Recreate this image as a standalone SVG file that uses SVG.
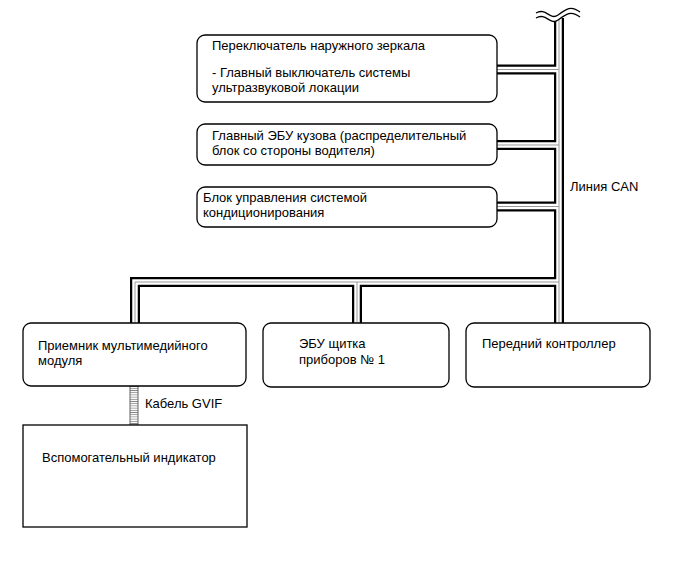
<svg xmlns="http://www.w3.org/2000/svg" width="686" height="563" viewBox="0 0 686 563">
<style>
.box{fill:#fff;stroke:#000;stroke-width:1.3}
.t{font-family:"Liberation Sans",Arial,sans-serif;font-size:13px;fill:#000}
.cb{fill:none;stroke:#000;stroke-width:10}
.cw{fill:none;stroke:#fff;stroke-width:5.5}
.cg{fill:none;stroke:#999;stroke-width:1}
</style>
<defs>
<pattern id="ladder" x="0" y="0" width="8" height="2.2" patternUnits="userSpaceOnUse">
<rect width="8" height="2.2" fill="#fff"/>
<line x1="0" y1="1.1" x2="8" y2="1.1" stroke="#888" stroke-width="0.8"/>
</pattern>
</defs>
<g id="connectors">
<g class="cb">
<path d="M559,18 V323"/>
<path d="M497,69.5 H559"/>
<path d="M497,145 H559"/>
<path d="M497,206.5 H559"/>
<path d="M559,282 H135 V323"/>
<path d="M357,282 V323"/>
</g>
<g class="cw">
<path d="M559,18 V324"/>
<path d="M496,69.5 H559"/>
<path d="M496,145 H559"/>
<path d="M496,206.5 H559"/>
<path d="M559,282 H135 V324"/>
<path d="M357,282 V324"/>
</g>
<g class="cg">
<path d="M559,18 V324"/>
<path d="M496,69.5 H559"/>
<path d="M496,145 H559"/>
<path d="M496,206.5 H559"/>
<path d="M559,282 H135 V324"/>
<path d="M357,282 V324"/>
</g>
<path d="M536,18 C546,12 550,26 558,20 S571,10 580,17 L580,12 C571,5 566,15 558,15 S546,7 536,13 Z" fill="#fff" stroke="none"/>
<path d="M536,13 C546,7 550,21 558,15 S571,5 580,12" fill="none" stroke="#000" stroke-width="1.3"/>
<path d="M536,18 C546,12 550,26 558,20 S571,10 580,17" fill="none" stroke="#000" stroke-width="1.3"/>
<rect x="130" y="386" width="8" height="39" fill="url(#ladder)" stroke="#555" stroke-width="0.9"/>
<text class="t" x="145" y="408">Кабель GVIF</text>
<text class="t" x="570" y="191">Линия CAN</text>
</g>
<g id="n1">
<rect class="box" x="197" y="35" width="300" height="67" rx="8"/>
<text class="t" x="212" y="50">Переключатель наружного зеркала</text>
<text class="t" x="212" y="76.5">- Главный выключатель системы</text>
<text class="t" x="212" y="91.5">ультразвуковой локации</text>
</g>
<g id="n2">
<rect class="box" x="197" y="124" width="300" height="41" rx="8"/>
<text class="t" x="212" y="140">Главный ЭБУ кузова (распределительный</text>
<text class="t" x="212" y="155">блок со стороны водителя)</text>
</g>
<g id="n3">
<rect class="box" x="197" y="187" width="300" height="40" rx="8"/>
<text class="t" x="203" y="202">Блок управления системой</text>
<text class="t" x="203" y="217">кондиционирования</text>
</g>
<g id="n4">
<rect class="box" x="23" y="323" width="223" height="63" rx="8"/>
<text class="t" x="38" y="350">Приемник мультимедийного</text>
<text class="t" x="38" y="365">модуля</text>
</g>
<g id="n5">
<rect class="box" x="263" y="323" width="186" height="64" rx="8"/>
<text class="t" x="299" y="347.5">ЭБУ щитка</text>
<text class="t" x="299" y="363.5">приборов № 1</text>
</g>
<g id="n6">
<rect class="box" x="466" y="323" width="184" height="64" rx="8"/>
<text class="t" x="482" y="347.5">Передний контроллер</text>
</g>
<g id="n7">
<rect class="box" x="23" y="425" width="224" height="102"/>
<text class="t" x="42" y="462">Вспомогательный индикатор</text>
</g>
</svg>
